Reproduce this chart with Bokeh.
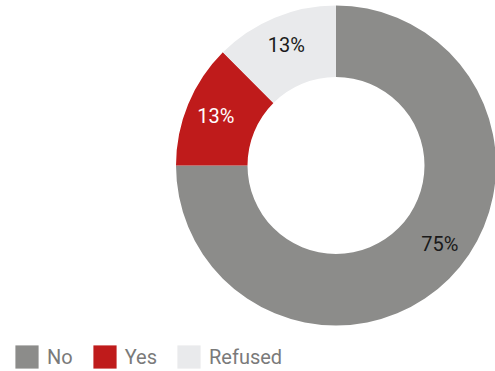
import math
from bokeh.plotting import figure
from bokeh.models import Range1d, ColumnDataSource, Legend, LegendItem
from bokeh.core.properties import value
from bokeh.embed import file_html
from bokeh.resources import INLINE

categories = ["No", "Yes", "Refused"]
shares = [75, 12.5, 12.5]
colors = ["#8c8c8a", "#bf1b1b", "#e9eaec"]
label_colors = ["#1a1a1a", "#ffffff", "#1a1a1a"]

W, H = 495, 371
cx, cy = 335.5, H - 165
r_in, r_out = 88.5, 160
r_lab = 130

total = sum(shares)
starts, ends, lx, ly, texts = [], [], [], [], []
cum = 0.0
for s in shares:
    a0 = math.pi / 2 - 2 * math.pi * cum / total
    cum += s
    a1 = math.pi / 2 - 2 * math.pi * cum / total
    starts.append(a0)
    ends.append(a1)
    mid = (a0 + a1) / 2
    if s / total > 0.5:
        mid += math.radians(8)
    lx.append(cx + r_lab * math.cos(mid))
    ly.append(cy + r_lab * math.sin(mid))
    texts.append(f"{int(s / total * 100 + 0.5)}%")

src = ColumnDataSource(dict(cat=categories, start=starts, end=ends, color=colors,
                            lx=lx, ly=ly, text=texts, tcolor=label_colors))

p = figure(width=W, height=H, output_backend="svg", toolbar_location=None,
           x_range=Range1d(0, W), y_range=Range1d(0, H), min_border=0)
p.axis.visible = False
p.grid.visible = False
p.outline_line_color = None

p.annular_wedge(x=cx, y=cy, inner_radius=r_in, outer_radius=r_out,
                inner_radius_units="screen", outer_radius_units="screen",
                start_angle="start", end_angle="end", direction="clock",
                fill_color="color", line_color=None, source=src)

p.text(x="lx", y="ly", text="text", text_color="tcolor", text_align="center",
       text_baseline="middle", text_font=value("Roboto"), text_font_size="20px",
       source=src)

items = []
for c, col in zip(categories, colors):
    # off-screen proxy glyph so the legend shows a filled square
    r = p.quad(left=[-50], right=[-40], top=[-40], bottom=[-50],
               fill_color=col, line_color=None)
    items.append(LegendItem(label=c, renderers=[r]))

legend = Legend(items=items, orientation="horizontal", location=(12, 0),
                glyph_width=29, glyph_height=29, label_height=29,
                label_standoff=6, spacing=17, padding=0, margin=0,
                border_line_color=None, background_fill_alpha=0,
                label_text_font="Roboto", label_text_font_size="20px",
                label_text_color="#7a7a7a")
p.add_layout(legend, "center")

open("out.html", "w").write(file_html(p, INLINE))
